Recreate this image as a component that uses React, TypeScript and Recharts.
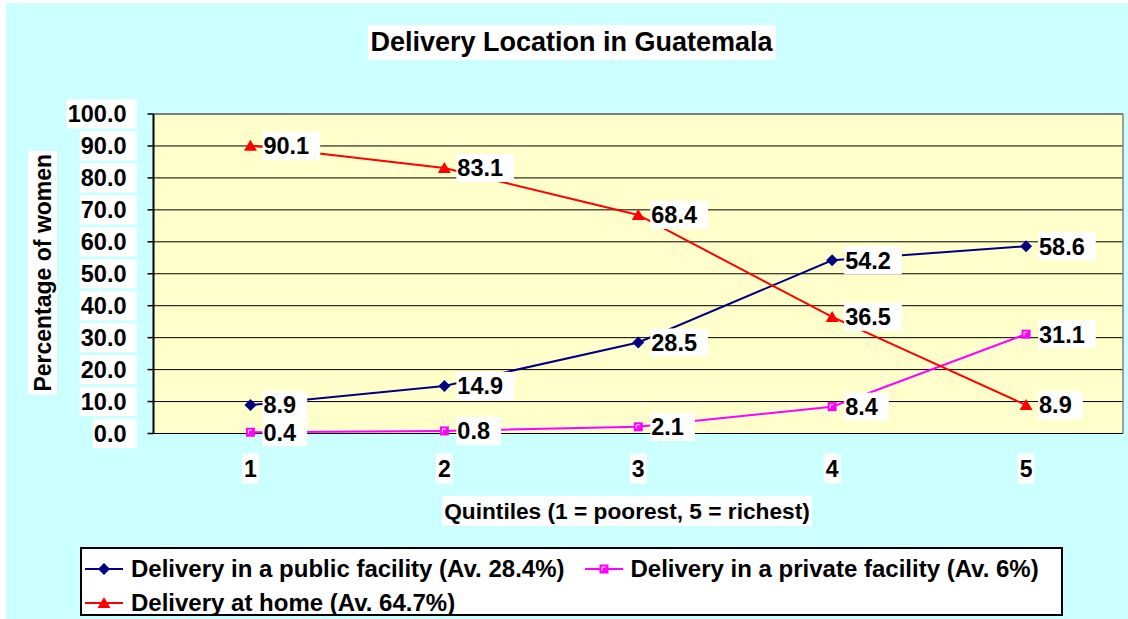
import React from 'react';
import { LineChart, Line, XAxis, YAxis, CartesianGrid, Legend, LabelList, ReferenceLine, Label } from 'recharts';

const quintiles = [1, 2, 3, 4, 5];
const publicFacility = [8.9, 14.9, 28.5, 54.2, 58.6];
const privateFacility = [0.4, 0.8, 2.1, 8.4, 31.1];
const atHome = [90.1, 83.1, 68.4, 36.5, 8.9];
const yTicks = [0, 10, 20, 30, 40, 50, 60, 70, 80, 90, 100];
const boundaryTicks = [0.5, 1.5, 2.5, 3.5, 4.5, 5.5];
const seriesNames = [
  'Delivery in a public facility (Av. 28.4%)',
  'Delivery in a private facility (Av. 6%)',
  'Delivery at home (Av. 64.7%)',
];
const chartTitle = 'Delivery Location in Guatemala';
const yTitle = 'Percentage of women';
const xTitle = 'Quintiles (1 = poorest, 5 = richest)';

const data = quintiles.map((q, i) => ({
  q,
  pub: publicFacility[i],
  priv: privateFacility[i],
  home: atHome[i],
}));

const FONT = "'Liberation Sans', Arial, sans-serif";
const CW: Record<string, number> = {
  '0': 0.556, '1': 0.556, '2': 0.556, '3': 0.556, '4': 0.556, '5': 0.556, '6': 0.556, '7': 0.556, '8': 0.556, '9': 0.556,
  '.': 0.278, ' ': 0.278, '(': 0.333, ')': 0.333, ',': 0.278, '=': 0.584, '%': 0.889,
  P: 0.667, Q: 0.778, e: 0.556, r: 0.389, c: 0.556, n: 0.611, t: 0.333, a: 0.556, g: 0.611, o: 0.611, f: 0.333,
  w: 0.778, m: 0.889, u: 0.611, i: 0.278, l: 0.278, s: 0.556, p: 0.611, h: 0.611,
};
const tw = (s: string, fs: number) => s.split('').reduce((a, c) => a + (CW[c] ?? 0.6), 0) * fs;

const Diamond = ({ cx, cy, fill }: any) => {
  const r = 6;
  return <path d={`M${cx},${cy - r}L${cx + r},${cy}L${cx},${cy + r}L${cx - r},${cy}Z`} fill={fill} />;
};
const SquareMark = ({ cx, cy, fill }: any) => (
  <g>
    <rect x={cx - 4.5} y={cy - 4.5} width={9} height={9} fill={fill} />
    <path d={`M${cx - 2},${cy + 1.5}V${cy - 2}H${cx + 1.5}`} stroke="#fff" strokeWidth={1} fill="none" />
  </g>
);
const Triangle = ({ cx, cy, fill }: any) => (
  <path d={`M${cx},${cy - 6}L${cx + 6.5},${cy + 5}L${cx - 6.5},${cy + 5}Z`} fill={fill} />
);

const series = [
  { key: 'pub', name: seriesNames[0], color: '#000080', Marker: Diamond },
  { key: 'priv', name: seriesNames[1], color: '#FF00FF', Marker: SquareMark },
  { key: 'home', name: seriesNames[2], color: '#FF0000', Marker: Triangle },
];

const YTick = (props: any) => {
  const { x, y, payload } = props;
  const s = Number(payload.value).toFixed(1);
  const fs = 23.5;
  const w = tw(s, fs);
  return (
    <g>
      <rect x={x - w - 1} y={y - 14.5} width={w + 11} height={29} fill="#fff" />
      <text x={x} y={y} dy={8.3} textAnchor="end" fontSize={fs} fontWeight="bold" fontFamily={FONT} fill="#000">{s}</text>
    </g>
  );
};

const XTick = (props: any) => {
  const { x, y, payload } = props;
  const s = String(payload.value);
  const fs = 23;
  const w = tw(s, fs);
  return (
    <g>
      <rect x={x - w / 2 - 2} y={y + 20} width={w + 4} height={30} fill="#fff" />
      <text x={x} y={y + 35} dy={8.2} textAnchor="middle" fontSize={fs} fontWeight="bold" fontFamily={FONT} fill="#000">{s}</text>
    </g>
  );
};

const YTitle = (props: any) => {
  const vb = props.viewBox || {};
  const cx = vb.x + 36.5;
  const cy = vb.y + vb.height / 2 - 1;
  const fs = 23;
  const w = tw(yTitle, fs);
  return (
    <g transform={`rotate(-90, ${cx}, ${cy})`}>
      <rect x={cx - w / 2 - 3} y={cy - 14.5} width={w + 6} height={29} fill="#fff" />
      <text x={cx} y={cy} dy={8.2} textAnchor="middle" fontSize={fs} fontWeight="bold" fontFamily={FONT} fill="#000">{yTitle}</text>
    </g>
  );
};

const XTitle = (props: any) => {
  const vb = props.viewBox || {};
  const cx = vb.x + 473.5;
  const cy = vb.y + 77.5;
  const fs = 22.7;
  const w = tw(xTitle, fs);
  return (
    <g>
      <rect x={cx - w / 2 - 2} y={cy - 15} width={w + 4} height={30} fill="#fff" />
      <text x={cx} y={cy} dy={8} textAnchor="middle" fontSize={fs} fontWeight="bold" fontFamily={FONT} fill="#000">{xTitle}</text>
    </g>
  );
};

const DataLabel = (props: any) => {
  const { x, y, value } = props;
  if (value == null) return null;
  const s = Number(value).toFixed(1);
  const fs = 23.5;
  const w = tw(s, fs);
  return (
    <g>
      <rect x={x + 12} y={y - 14} width={w + 12} height={28} fill="#fff" />
      <text x={x + 13} y={y} dy={8.4} textAnchor="start" fontSize={fs} fontWeight="bold" fontFamily={FONT} fill="#000">{s}</text>
    </g>
  );
};

const LegendBox = () => (
  <div
    style={{
      boxSizing: 'border-box', width: '100%', height: '100%', border: '2px solid #000', background: '#fff',
      display: 'flex', flexWrap: 'wrap', alignContent: 'flex-start', padding: '3px 0 0 3px',
      fontFamily: FONT, fontWeight: 'bold', fontSize: 24, color: '#000',
    }}
  >
    {series.map((s) => (
      <div key={s.key} style={{ display: 'flex', alignItems: 'center', height: 34, marginRight: 20, whiteSpace: 'nowrap' }}>
        <svg width={38} height={20} style={{ display: 'block' }}>
          <line x1={0} y1={10} x2={38} y2={10} stroke={s.color} strokeWidth={2} />
          <s.Marker cx={19} cy={10} fill={s.color} />
        </svg>
        <span style={{ marginLeft: 8, lineHeight: '34px' }}>{s.name}</span>
      </div>
    ))}
  </div>
);

export default function App() {
  return (
    <div style={{ position: 'absolute', left: 6, top: 3, width: 1122, height: 616, background: '#CCFFFF' }}>
      <div style={{ position: 'absolute', left: 0, top: 22, width: 1122, textAlign: 'center', paddingLeft: 10, boxSizing: 'border-box' }}>
        <span
          style={{
            display: 'inline-block', background: '#fff', fontFamily: FONT, fontWeight: 'bold', fontSize: 27,
            lineHeight: '35px', height: 35, padding: '0 3px 0 2px', color: '#000',
          }}
        >
          {chartTitle}
        </span>
      </div>
      <LineChart width={1122} height={616} data={data} margin={{ top: 111, right: 5, left: 0, bottom: 0 }}>
        <CartesianGrid vertical={false} horizontal stroke="#000" strokeWidth={1} fill="#FFFFCC" fillOpacity={1} />
        <XAxis
          dataKey="q" type="number" domain={[0.5, 5.5]} ticks={boundaryTicks} interval={0} allowDataOverflow
          height={0} tick={false} tickSize={6} axisLine={{ stroke: '#000', strokeWidth: 2.5 }} tickLine={{ stroke: '#000', strokeWidth: 1.5 }}
        />
        <XAxis
          xAxisId="lab" dataKey="q" type="number" domain={[0.5, 5.5]} ticks={quintiles} interval={0} allowDataOverflow
          height={185.5} axisLine={false} tickLine={false} tickSize={0} tickMargin={0} tick={<XTick />}
        >
          <Label content={XTitle} />
        </XAxis>
        <YAxis
          domain={[0, 100]} ticks={yTicks} interval={0} width={147.5} tickSize={6} tickMargin={21}
          tick={<YTick />} axisLine={{ stroke: '#000', strokeWidth: 2 }} tickLine={{ stroke: '#000', strokeWidth: 1.5 }}
        >
          <Label content={YTitle} />
        </YAxis>
        <ReferenceLine y={100} stroke="#808080" strokeWidth={1.5} />
        <ReferenceLine x={5.5} stroke="#808080" strokeWidth={1.5} />
        {series.map((s) => (
          <Line
            key={s.key} dataKey={s.key} name={s.name} stroke={s.color} strokeWidth={2} isAnimationActive={false}
            dot={(p: any) => <s.Marker key={`${s.key}-${p.index}`} cx={p.cx} cy={p.cy} fill={s.color} />}
            activeDot={false}
          />
        ))}
        {series.map((s) => (
          <Line
            key={`${s.key}-lbl`} dataKey={s.key} stroke="none" dot={false} activeDot={false} legendType="none"
            isAnimationActive={false}
          >
            <LabelList dataKey={s.key} content={DataLabel} />
          </Line>
        ))}
        <Legend
          verticalAlign="middle" layout="horizontal" content={LegendBox}
          wrapperStyle={{ position: 'absolute', left: 74, top: 544, width: 983, height: 69, bottom: 'auto', right: 'auto' }}
        />
      </LineChart>
    </div>
  );
}
